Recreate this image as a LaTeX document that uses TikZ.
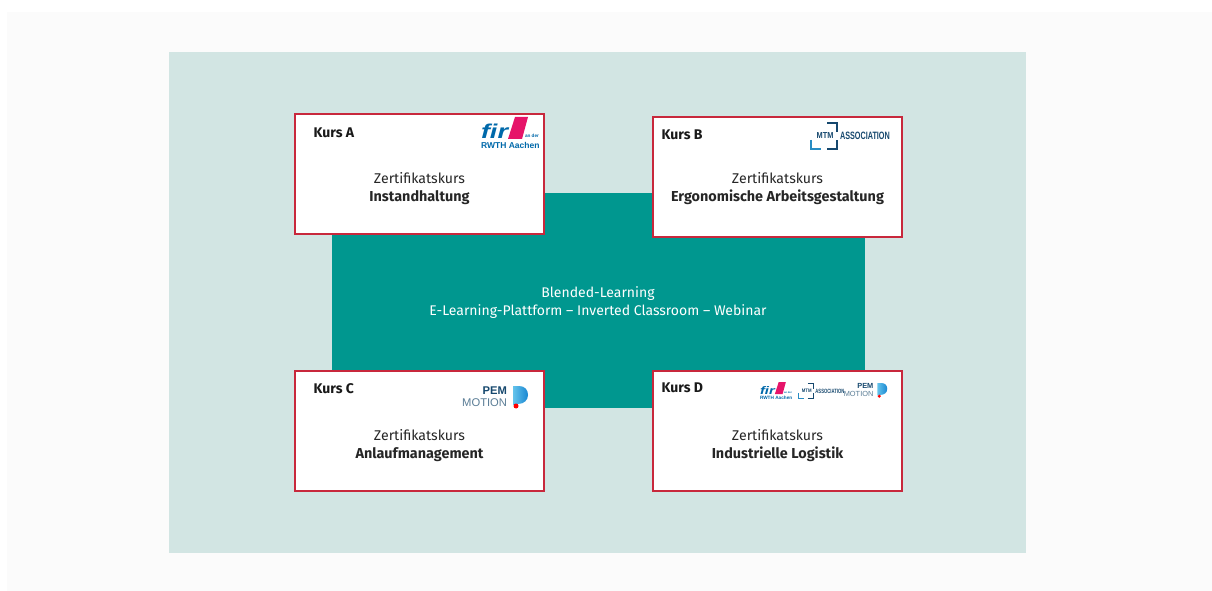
\documentclass[tikz,border=0pt]{standalone}
\usepackage{fontspec}
\setmainfont{Fira Sans}
\newfontfamily\logofont{Liberation Sans}
\newcommand{\kursname}[1]{{\fontsize{10.8}{13.5}\selectfont\bfseries #1}}
\definecolor{panel}{RGB}{251,251,251}
\definecolor{pale}{RGB}{210,229,227}
\definecolor{teal-dark}{RGB}{0,151,143}
\definecolor{kurs-red}{RGB}{200,40,60}
\definecolor{fir-blue}{RGB}{0,105,170}
\definecolor{fir-pink}{RGB}{230,20,105}
\definecolor{mtm-dark}{RGB}{22,72,110}
\definecolor{mtm-light}{RGB}{40,140,195}
\definecolor{pem-grey}{RGB}{90,125,150}
\definecolor{pem-light}{RGB}{100,195,235}
\definecolor{pem-blue}{RGB}{25,135,210}
\usetikzlibrary{
  positioning      % labels relative to the boxes
}
\tikzset{
  x=0.75pt, y=-0.75pt,
  node distance=9pt and 14pt,
  every node/.style = {inner sep=0pt, outer sep=0pt},
  kursbox/.append style = {
    rectangle,
    draw=kurs-red,
    line width=1.2pt,
    fill=white,
    minimum width=186.75pt,
    minimum height=90pt
  },
  kurslabel/.append style = {
    font=\fontsize{10.5}{13}\selectfont\bfseries,
    text=black!90
  },
  kurstext/.append style = {
    align=center,
    yshift=-11pt,
    text=black!85,
    font=\fontsize{10.6}{13.5}\selectfont
  },
  platform/.append style = {
    align=center,
    text=white,
    font=\fontsize{10.5}{13.5}\selectfont
  },
  logotext/.append style = {transform shape},
  mtmline/.style = {line width=2.2pt},
  % logos, drawn from their top left corner
  firlogo/.pic = {
    \fill[fir-pink] (34,0) -- (47,0) -- (41,22) -- (27,22) -- cycle;
    \node[logotext, anchor=base west, text=fir-blue, xscale=1.35] (firname) at (0,22)
      {\logofont\fontsize{15}{15}\selectfont\bfseries\itshape fir};
    \node[logotext, anchor=base east, text=fir-blue] (firan) at (58,21)
      {\logofont\fontsize{3.5}{4}\selectfont\bfseries an der};
    \node[logotext, anchor=base west, text=fir-blue] (firrwth) at (0,32)
      {\logofont\fontsize{6.4}{8}\selectfont\bfseries RWTH Aachen};
  },
  mtmlogo/.pic = {
    \draw[mtm-dark, mtmline] (17,1) -- (27,1) -- (27,10);
    \draw[mtm-light, mtmline] (1,18) -- (1,27) -- (11,27);
    \draw[mtm-dark, mtmline] (17,27) -- (27,27) -- (27,18);
    \node[logotext, text=mtm-dark, xscale=.85] (mtmname) at (15,14)
      {\logofont\fontsize{6.5}{7}\selectfont\bfseries MTM};
    \node[logotext, anchor=west, text=mtm-dark, xscale=.68] (mtmassoc) at (30,14)
      {\logofont\fontsize{8}{8}\selectfont\bfseries ASSOCIATION};
  },
  pemlogo/.pic = {
    \node[logotext, anchor=east, text=mtm-dark] (pemname) at (43,5)
      {\logofont\fontsize{8.4}{8}\selectfont\bfseries PEM};
    \node[logotext, anchor=east, text=pem-grey] (pemmotion) at (43,17)
      {\logofont\fontsize{8.4}{8}\selectfont MOTION};
    \shade[left color=pem-light, right color=pem-blue]
      (49,0) -- (55,0) .. controls (61,0) and (64,4) .. (64,9)
      .. controls (64,14) and (60,18) .. (54,18) -- (49,19) -- cycle;
    \fill[red] (52,20) circle (2.5);
  }
}

\begin{document}
\begin{tikzpicture}

% backgrounds
\useasboundingbox (0,0) rectangle (1212,591);
\fill[panel] (7,12) rectangle (1212,591);
\fill[pale] (169,52) rectangle (1026,553);
\node[fill=teal-dark, minimum width=399.75pt, minimum height=161.25pt] (blended) at (598,300.5) {};
\node[platform] (blendedtext) at (598,303) {Blended-Learning\\E-Learning-Plattform -- Inverted Classroom -- Webinar};

% the four courses
\node[kursbox] (boxa) at (419.5,174) {};
\node[kursbox] (boxb) at (777.5,177) {};
\node[kursbox] (boxc) at (419.5,431) {};
\node[kursbox] (boxd) at (777.5,431) {};

\node[kurslabel, below right=10pt and 14pt of boxa.north west] {Kurs A};
\node[kurslabel, below right=9.5pt and 6.5pt of boxb.north west] {Kurs B};
\node[kurslabel, below right=9.5pt and 14pt of boxc.north west] {Kurs C};
\node[kurslabel, below right=8.5pt and 6.5pt of boxd.north west] {Kurs D};

\node[kurstext] at (boxa.center) {Zertifikatskurs\\\kursname{Instandhaltung}};
\node[kurstext, yshift=2.25pt] at (boxb.center) {Zertifikatskurs\\\kursname{Ergonomische Arbeitsgestaltung}};
\node[kurstext] at (boxc.center) {Zertifikatskurs\\\kursname{Anlaufmanagement}};
\node[kurstext] at (boxd.center) {Zertifikatskurs\\\kursname{Industrielle Logistik}};

% logos
\pic at (481,117) {firlogo};
\pic at (810,122) {mtmlogo};
\pic at (464,386) {pemlogo};
\pic[scale=.55] at (760,382) {firlogo};
\pic[scale=.58, mtmline/.style={line width=1.2pt}] at (798,383) {mtmlogo};
\pic[scale=.66] at (845,383) {pemlogo};

\end{tikzpicture}
\end{document}
